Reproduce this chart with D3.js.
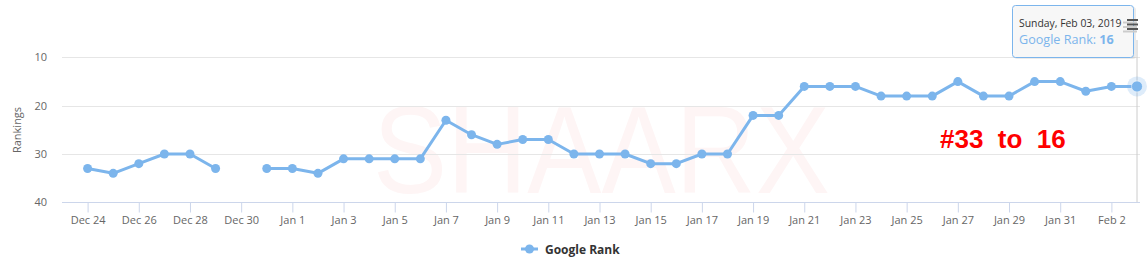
<!DOCTYPE html>
<html>
<head>
<meta charset="utf-8">
<script src="https://cdn.jsdelivr.net/npm/d3@7"></script>
<style>
  body { margin: 0; background: #fff; }
  svg { display: block; font-family: "Open Sans", sans-serif; }
</style>
</head>
<body>
<div id="chart"></div>
<script>
width = 1147
height = 263

// daily google rank, Dec 24 2018 .. Feb 3 2019 (null = no data)
startDate = "2018-12-24"
ranks = [33, 34, 32, 30, 30, 33, null, 33, 33, 34,
         31, 31, 31, 31, 23, 26, 28, 27, 27, 30,
         30, 30, 32, 32, 30, 30, 22, 22, 16, 16,
         16, 18, 18, 18, 15, 18, 18, 15, 15, 17,
         16, 16]
yTicks = [10, 20, 30, 40]
seriesName = "Google Rank"
yTitle = "Rankings"
note = "#33  to  16"
watermark = "SHAARX"

color = "#7cb5ec"

const parse = d3.timeParse("%Y-%m-%d")
const t0 = parse(startDate)
const data = ranks.map((v, i) => ({date: d3.timeDay.offset(t0, i), v: v}))
const tickDates = data.filter((d, i) => i % 2 == 0).map(d => d.date)

const plot = {left: 62, right: 1140, top: 9, bottom: 202}

x = d3.scaleTime()
    .domain([d3.timeDay.offset(t0, -1), data[data.length - 1].date])
    .range([plot.left, 1137])

y = d3.scaleLinear()
    .domain([0, 40])
    .range([9.2, 202.3])

const svg = d3.select("#chart").append("svg")
    .attr("width", width)
    .attr("height", height)

// watermark behind everything
svg.append("text")
    .attr("x", 373)
    .attr("y", 193)
    .attr("font-family", "Liberation Sans, Arial, sans-serif")
    .attr("font-size", 124)
    .attr("textLength", 457)
    .attr("lengthAdjust", "spacingAndGlyphs")
    .attr("fill", "#fef5f5")
    .text(watermark)

// gridlines
svg.append("g").selectAll("line")
    .data(yTicks.filter(d => d < 40))
    .enter().append("line")
    .attr("x1", plot.left).attr("x2", plot.right)
    .attr("y1", d => Math.round(y(d)) + 0.5)
    .attr("y2", d => Math.round(y(d)) + 0.5)
    .attr("stroke", "#e6e6e6")

// y labels
svg.append("g").selectAll("text")
    .data(yTicks)
    .enter().append("text")
    .attr("x", 47)
    .attr("y", d => y(d) + 4)
    .attr("text-anchor", "end")
    .attr("font-size", 11)
    .attr("fill", "#666")
    .text(d => d)

svg.append("text")
    .attr("transform", "translate(21,130) rotate(-90)")
    .attr("text-anchor", "middle")
    .attr("font-size", 11)
    .attr("fill", "#666")
    .text(yTitle)

// x axis
const xAxis = svg.append("g")
    .attr("transform", `translate(0,${Math.round(y(40)) + 0.5})`)
    .call(d3.axisBottom(x)
        .tickValues(tickDates)
        .tickFormat(d3.timeFormat("%b %-d"))
        .tickSize(10)
        .tickPadding(4))
xAxis.select(".domain")
    .attr("d", `M${plot.left},0H${plot.right}`)
    .attr("stroke", "#ccd6eb")
xAxis.selectAll(".tick line").attr("stroke", "#ccd6eb")
xAxis.selectAll(".tick text")
    .attr("font-family", "Open Sans, sans-serif")
    .attr("font-size", 11)
    .attr("fill", "#666")

// crosshair on hovered point
const last = data[data.length - 1]
svg.append("line")
    .attr("x1", x(last.date)).attr("x2", x(last.date))
    .attr("y1", 40).attr("y2", plot.bottom)
    .attr("stroke", "#ccc")

// series
const line = d3.line()
    .defined(d => d.v != null)
    .x(d => x(d.date))
    .y(d => y(d.v))

svg.append("path")
    .datum(data)
    .attr("d", line)
    .attr("fill", "none")
    .attr("stroke", color)
    .attr("stroke-width", 3)
    .attr("stroke-linejoin", "round")

svg.append("g").selectAll("circle")
    .data(data.filter(d => d.v != null))
    .enter().append("circle")
    .attr("cx", d => x(d.date))
    .attr("cy", d => y(d.v))
    .attr("r", 4.5)
    .attr("fill", color)

// hover halo
svg.append("circle")
    .attr("cx", x(last.date)).attr("cy", y(last.v))
    .attr("r", 10)
    .attr("fill", color)
    .attr("opacity", 0.25)
svg.append("circle")
    .attr("cx", x(last.date)).attr("cy", y(last.v))
    .attr("r", 5.5)
    .attr("fill", color)
    .attr("stroke", "#fff")
    .attr("stroke-width", 0.5)

// red annotation
svg.append("text")
    .attr("x", 940)
    .attr("y", 148)
    .attr("xml:space", "preserve")
    .attr("font-family", "Liberation Sans, Arial, sans-serif")
    .attr("font-weight", "bold")
    .attr("font-size", 26)
    .attr("fill", "#ff0000")
    .style("white-space", "pre")
    .text(note)

// tooltip
const tip = svg.append("g").attr("transform", "translate(1012,5)")
tip.append("rect")
    .attr("x", 1).attr("y", 1)
    .attr("width", 122).attr("height", 52)
    .attr("rx", 3)
    .attr("fill", "#000")
    .attr("opacity", 0.08)
    .attr("transform", "translate(1,1)")
tip.append("rect")
    .attr("x", 0.5).attr("y", 0.5)
    .attr("width", 121).attr("height", 52)
    .attr("rx", 3)
    .attr("fill", "#f7f7f7")
    .attr("fill-opacity", 0.92)
    .attr("stroke", color)
tip.append("text")
    .attr("x", 7).attr("y", 22)
    .attr("font-size", 10.4)
    .attr("fill", "#333")
    .text(d3.timeFormat("%A, %b %d, %Y")(last.date))
const tt = tip.append("text")
    .attr("x", 7).attr("y", 39)
    .attr("font-size", 12.6)
    .attr("fill", color)
tt.append("tspan").text(seriesName + ": ")
tt.append("tspan").attr("font-weight", "bold").text(last.v)

// export menu icon
const menu = svg.append("g").attr("transform", "translate(1123,20)")
;[0, 4.5, 9].forEach(dy => {
  menu.append("line")
      .attr("x1", 0).attr("x2", 14)
      .attr("y1", dy + 2.5).attr("y2", dy + 2.5)
      .attr("stroke", "#ccc").attr("stroke-width", 2)
  menu.append("line")
      .attr("x1", 4).attr("x2", 15)
      .attr("y1", dy).attr("y2", dy)
      .attr("stroke", "#555").attr("stroke-width", 2)
})

// legend
const lg = svg.append("g").attr("transform", "translate(521,249)")
lg.append("line")
    .attr("x1", 0).attr("x2", 17)
    .attr("stroke", color).attr("stroke-width", 3)
lg.append("circle").attr("cx", 8.5).attr("r", 4.5).attr("fill", color)
lg.append("text")
    .attr("x", 24).attr("y", 4.5)
    .attr("font-size", 12)
    .attr("font-weight", "bold")
    .attr("fill", "#333")
    .text(seriesName)
</script>
</body>
</html>
